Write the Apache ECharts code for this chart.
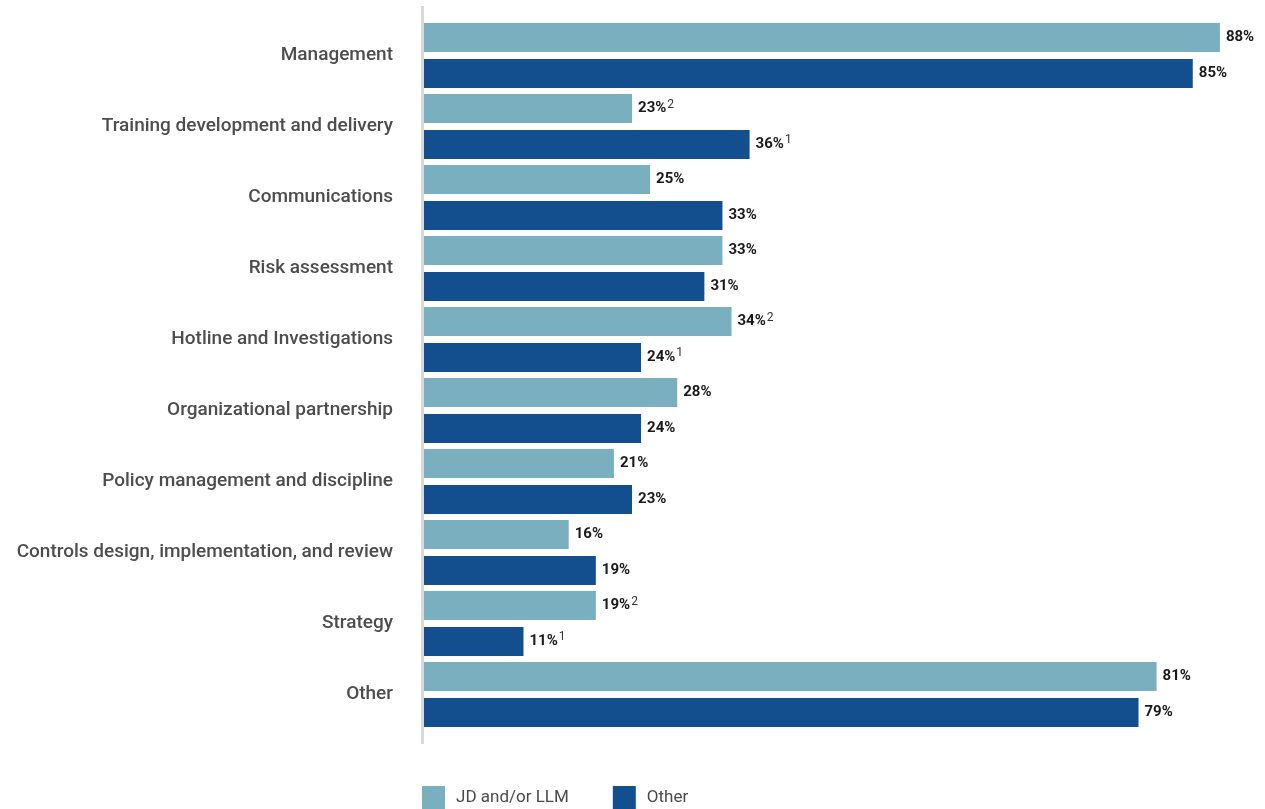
<!DOCTYPE html>
<html>
<head>
<meta charset="utf-8">
<script src="https://cdn.jsdelivr.net/npm/echarts@6/dist/echarts.min.js"></script>
<style>
  html, body { margin: 0; padding: 0; background: #ffffff; }
  #chart { width: 1265px; height: 809px; }
</style>
</head>
<body>
<div id="chart"></div>
<script>
// Job functions, top to bottom
const categories = [
  'Management',
  'Training development and delivery',
  'Communications',
  'Risk assessment',
  'Hotline and Investigations',
  'Organizational partnership',
  'Policy management and discipline',
  'Controls design, implementation, and review',
  'Strategy',
  'Other'
];
const seriesNames = ['JD and/or LLM', 'Other'];
const jdValues = [88, 23, 25, 33, 34, 28, 21, 16, 19, 81];
const otherValues = [85, 36, 33, 31, 24, 24, 23, 19, 11, 79];
// footnote markers shown after some values ('' = none)
const jdNotes = ['', '2', '', '', '2', '', '', '', '2', ''];
const otherNotes = ['', '1', '', '', '1', '', '', '', '1', ''];

const colors = ['#79afbf', '#134f8e'];

const chart = echarts.init(document.getElementById('chart'));

function labelFor(notes) {
  return {
    show: true,
    position: 'right',
    distance: 6,
    formatter: function (p) {
      const n = notes[p.dataIndex];
      return '{v|' + p.value + '%}' + (n ? '{s|' + n + '}' : '');
    },
    rich: {
      v: { fontFamily: 'Roboto', fontWeight: 'bold', fontSize: 15, color: '#1a1a1a' },
      s: { fontFamily: 'Roboto', fontSize: 12, color: '#333', verticalAlign: 'bottom', padding: [0, 0, 8, 1] }
    }
  };
}

chart.setOption({
  animation: false,
  color: colors,
  textStyle: { fontFamily: 'Roboto' },
  grid: { left: 424, top: 20, height: 710, width: 814 },
  // vertical baseline to the left of the bars
  graphic: [{
    type: 'rect',
    shape: { x: 421, y: 6, width: 3, height: 738 },
    style: { fill: '#d9d9d9' },
    z: 10
  }],
  xAxis: {
    type: 'value',
    min: 0,
    max: 90,
    show: false
  },
  yAxis: {
    type: 'category',
    data: categories,
    inverse: true,
    axisLine: { show: false },
    axisTick: { show: false },
    axisLabel: {
      margin: 31,
      fontFamily: 'Roboto',
      fontSize: 19,
      fontWeight: 500,
      color: '#4d4d4d'
    }
  },
  legend: {
    data: seriesNames,
    left: 422,
    top: 786,
    padding: 0,
    itemWidth: 23,
    itemHeight: 23,
    itemGap: 44,
    icon: 'rect',
    textStyle: { fontFamily: 'Roboto', fontSize: 17, color: '#4a4a4a', padding: [0, 0, 0, 6] }
  },
  series: [
    {
      name: seriesNames[0],
      type: 'bar',
      data: jdValues,
      barWidth: 29,
      barGap: '24%',
      label: labelFor(jdNotes)
    },
    {
      name: seriesNames[1],
      type: 'bar',
      data: otherValues,
      barWidth: 29,
      barGap: '24%',
      label: labelFor(otherNotes)
    }
  ]
});
</script>
</body>
</html>
